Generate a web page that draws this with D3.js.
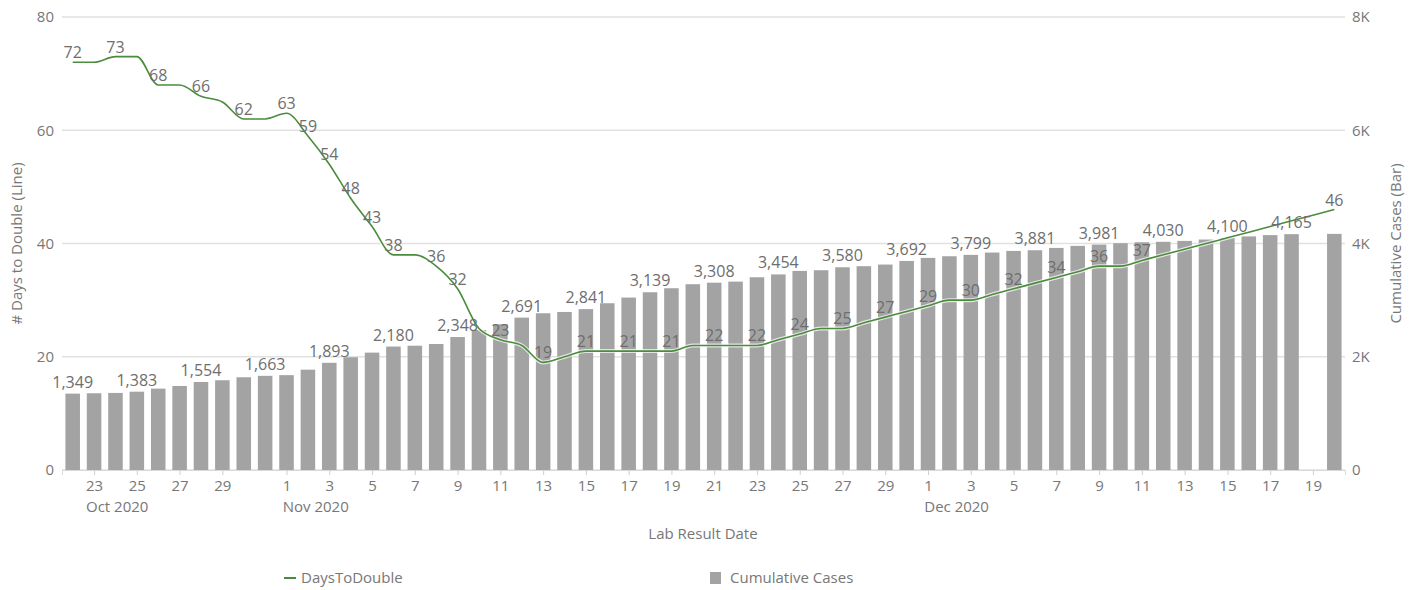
<!DOCTYPE html>
<html>
<head>
<meta charset="utf-8">
<script src="https://cdn.jsdelivr.net/npm/d3@7"></script>
<style>
  body { margin: 0; background: #fff; }
  svg text { font-family: "Open Sans", "Noto Sans", sans-serif; }
</style>
</head>
<body>
<svg id="chart" width="1416" height="590"></svg>
<script>
// categories: one per lab result day
const startDay = new Date(Date.UTC(2020, 9, 22));
const endDay = new Date(Date.UTC(2020, 11, 20));
const days = d3.utcDay.range(startDay, d3.utcDay.offset(endDay, 1));

// Cumulative Cases (bars), Dec 19 missing
const cumulativeCases = [
  1349, 1355, 1361, 1383, 1437, 1484, 1554, 1585, 1638, 1663,
  1675, 1772, 1893, 1991, 2073, 2180, 2195, 2225, 2348, 2473,
  2574, 2691, 2768, 2791, 2841, 2945, 3045, 3139, 3210, 3281,
  3308, 3327, 3404, 3454, 3516, 3528, 3580, 3599, 3628, 3692,
  3746, 3775, 3799, 3840, 3869, 3881, 3922, 3958, 3981, 4005,
  4022, 4030, 4046, 4070, 4100, 4125, 4148, 4165, null, 4170
];

// DaysToDouble (line)
const daysToDouble = [
  72, 72, 73, 73, 68, 68, 66, 65, 62, 62,
  63, 59, 54, 48, 43, 38, 38, 36, 32, 25,
  23, 22, 19, 20, 21, 21, 21, 21, 21, 22,
  22, 22, 22, 23, 24, 25, 25, 26, 27, 28,
  29, 30, 30, 31, 32, 33, 34, 35, 36, 36,
  37, 38, 39, 40, 41, 42, 43, 44, 45, 46
];

// which days carry a visible label
const lineLabelIdx = [0, 2, 4, 6, 8, 10, 11, 12, 13, 14, 15, 17, 18, 20, 22, 24, 26, 28, 30,
  32, 34, 36, 38, 40, 42, 44, 46, 48, 50, 59];
const barLabelEvery = 3;

const leftTicks = [0, 20, 40, 60, 80];
const rightTicks = [0, 2000, 4000, 6000, 8000];

const svg = d3.select('#chart');
const mLeft = 62, mRight = 1345, mTop = 17, mBottom = 470;
const green = '#4a8c3c', barColor = '#a3a3a3', textColor = '#777';

const x = d3.scaleUtc()
  .domain([d3.utcHour.offset(startDay, -12), d3.utcHour.offset(endDay, 12)])
  .range([mLeft, mRight]);
const step = x(d3.utcDay.offset(startDay, 1)) - x(startDay);
const barW = step * 0.68;

const yL = d3.scaleLinear().domain([0, 80]).range([mBottom, mTop]);
const yR = d3.scaleLinear().domain([0, 8000]).range([mBottom, mTop]);

// gridlines
svg.append('g').selectAll('line')
  .data(leftTicks)
  .join('line')
  .attr('x1', mLeft).attr('x2', mRight)
  .attr('y1', d => yL(d)).attr('y2', d => yL(d))
  .attr('stroke', '#e1e1e1').attr('stroke-width', 1.5);

// left axis labels
svg.append('g').selectAll('text')
  .data(leftTicks)
  .join('text')
  .attr('x', 54).attr('y', d => yL(d))
  .attr('dy', '0.35em')
  .attr('text-anchor', 'end')
  .attr('font-size', 15)
  .attr('fill', textColor)
  .text(d => d);

// right axis labels
svg.append('g').selectAll('text')
  .data(rightTicks)
  .join('text')
  .attr('x', 1352).attr('y', d => yR(d))
  .attr('dy', '0.35em')
  .attr('font-size', 15)
  .attr('fill', textColor)
  .text(d => d === 0 ? '0' : (d / 1000) + 'K');

// bars
const barData = days.map((d, i) => ({ date: d, value: cumulativeCases[i], i: i }))
  .filter(d => d.value != null);
svg.append('g').selectAll('rect')
  .data(barData)
  .join('rect')
  .attr('x', d => x(d.date) - barW / 2)
  .attr('width', barW)
  .attr('y', d => yR(d.value))
  .attr('height', d => mBottom - yR(d.value))
  .attr('fill', barColor);

// x axis
const tickDays = days.filter(d => d.getUTCDate() % 2 === 1 && d.getUTCDate() !== 31);
const xAxis = d3.axisBottom(x)
  .tickValues(tickDays)
  .tickSize(5)
  .tickPadding(5)
  .tickFormat(d3.utcFormat('%-d'));
const axisG = svg.append('g')
  .attr('transform', 'translate(0,' + mBottom + ')')
  .call(xAxis);
axisG.select('.domain').attr('stroke', '#d9d9d9');
axisG.selectAll('.tick line').attr('stroke', '#cfcfcf');
axisG.selectAll('.tick text')
  .attr('font-size', 15)
  .attr('fill', textColor)
  .attr('font-family', '"Open Sans", sans-serif');

// month labels under the first tick of each month
const monthStarts = tickDays.filter((d, i) => i === 0 || d.getUTCMonth() !== tickDays[i - 1].getUTCMonth());
axisG.selectAll('.tick').each(function (d) {
  if (!monthStarts.some(m => +m === +d)) return;
  const w = this.querySelector('text').getComputedTextLength();
  d3.select(this).append('text')
    .attr('x', -w / 2)
    .attr('y', 42)
    .attr('text-anchor', 'start')
    .attr('font-size', 15)
    .attr('fill', textColor)
    .attr('font-family', '"Open Sans", sans-serif')
    .text(d3.utcFormat('%b %Y')(d));
});

// line
const lineData = days.map((d, i) => ({ date: d, value: daysToDouble[i], i: i }));
const line = d3.line()
  .x(d => x(d.date))
  .y(d => yL(d.value))
  .curve(d3.curveMonotoneX);
svg.append('path')
  .datum(lineData)
  .attr('d', line)
  .attr('fill', 'none')
  .attr('stroke', '#fff')
  .attr('stroke-opacity', 0.7)
  .attr('stroke-width', 4);
svg.append('path')
  .datum(lineData)
  .attr('d', line)
  .attr('fill', 'none')
  .attr('stroke', green)
  .attr('stroke-width', 1.6);

// bar labels
svg.append('g').selectAll('text')
  .data(barData.filter(d => d.i % barLabelEvery === 0))
  .join('text')
  .attr('x', d => x(d.date))
  .attr('y', d => yR(d.value) - 6)
  .attr('text-anchor', 'middle')
  .attr('font-size', 16)
  .attr('fill', '#6e6e6e')
  .text(d => d3.format(',')(d.value));

// line labels
svg.append('g').selectAll('text')
  .data(lineData.filter(d => lineLabelIdx.includes(d.i)))
  .join('text')
  .attr('x', d => x(d.date))
  .attr('y', d => yL(d.value) - 4)
  .attr('text-anchor', 'middle')
  .attr('font-size', 16)
  .attr('fill', '#6e6e6e')
  .text(d => d.value);

// axis titles
svg.append('text')
  .attr('transform', 'translate(22,' + (mTop + mBottom) / 2 + ') rotate(-90)')
  .attr('text-anchor', 'middle')
  .attr('font-size', 15)
  .attr('fill', textColor)
  .text('# Days to Double (Line)');
svg.append('text')
  .attr('transform', 'translate(1401,' + (mTop + mBottom) / 2 + ') rotate(-90)')
  .attr('text-anchor', 'middle')
  .attr('font-size', 15)
  .attr('fill', textColor)
  .text('Cumulative Cases (Bar)');
svg.append('text')
  .attr('x', 703).attr('y', 539)
  .attr('text-anchor', 'middle')
  .attr('font-size', 15)
  .attr('fill', textColor)
  .text('Lab Result Date');

// legend
const legend = svg.append('g');
legend.append('line')
  .attr('x1', 284).attr('x2', 296).attr('y1', 578).attr('y2', 578)
  .attr('stroke', green).attr('stroke-width', 2);
legend.append('text')
  .attr('x', 301).attr('y', 578).attr('dy', '0.35em')
  .attr('font-size', 15).attr('fill', textColor)
  .text('DaysToDouble');
legend.append('rect')
  .attr('x', 710).attr('y', 572).attr('width', 11).attr('height', 12)
  .attr('fill', barColor);
legend.append('text')
  .attr('x', 730).attr('y', 578).attr('dy', '0.35em')
  .attr('font-size', 15).attr('fill', textColor)
  .text('Cumulative Cases');
</script>
</body>
</html>
